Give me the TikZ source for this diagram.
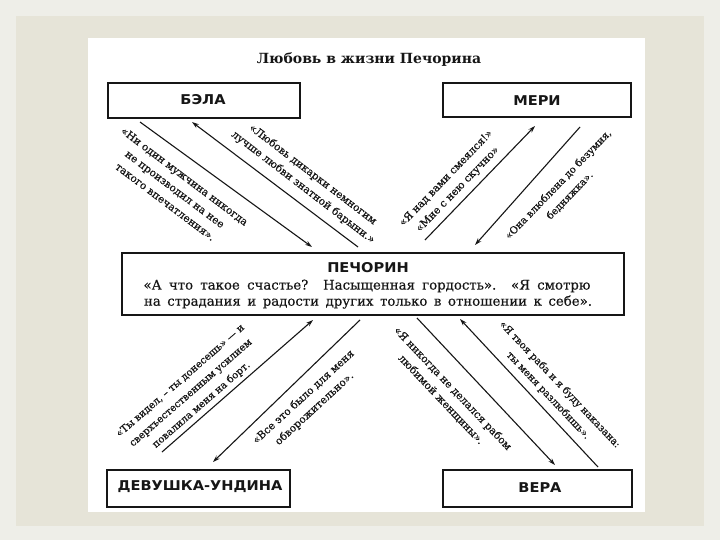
\documentclass[tikz,border=0pt]{standalone}
\usepackage{fontspec}
\setmainfont{DejaVu Serif}
\newfontfamily\labfont[FakeStretch=1.08]{DejaVu Sans}
\newfontfamily\quotefont[FakeBold=0.6]{DejaVu Serif}
\newfontfamily\centerfont[FakeBold=0.4]{DejaVu Serif}
\usetikzlibrary{arrows.meta}
\definecolor{outerbg}{RGB}{238,238,232}
\definecolor{innerbg}{RGB}{230,228,216}
\definecolor{ink}{RGB}{22,22,22}
\begin{document}
\begin{tikzpicture}[x=1pt,y=-1pt,
  namebox/.style={draw=ink, line width=1.5pt, inner sep=0pt},
  namelab/.style={font=\labfont\bfseries\fontsize{13.5}{15}\selectfont, text=ink, inner sep=0pt},
  quote/.style={font=\quotefont\fontsize{10.5}{16}\selectfont, align=center, inner sep=0pt, text=ink},
  smallq/.style={font=\quotefont\fontsize{10}{16}\selectfont},
  conn/.style={draw=ink, line width=1.1pt, -{Stealth[length=7pt,width=4.5pt]}}]
% background
\fill[outerbg] (0,0) rectangle (720,540);
\fill[innerbg] (16,16) rectangle (704,526);
\fill[white] (88,38) rectangle (645,512);
\useasboundingbox (0,0) rectangle (720,540);
% title
\node[font=\bfseries\fontsize{14}{16}\selectfont, text=ink, inner sep=0pt] (title) at (369,60) {Любовь в жизни Печорина};
% boxes
\node[namebox, minimum width=192pt, minimum height=35pt] (bela) at (204,100.5) {};
\node[namelab] (belalab) at (203,100) {БЭЛА};
\node[namebox, minimum width=188pt, minimum height=34pt] (meri) at (537,100) {};
\node[namelab] (merilab) at (537,101) {МЕРИ};
\node[namebox, minimum width=502pt, minimum height=62pt] (pech) at (373,284) {};
\node[namelab] (pechlab) at (368,268) {ПЕЧОРИН};
\node[font=\centerfont\fontsize{13.3}{14}\selectfont, text=ink, inner sep=0pt] (pechl1) at (367,286) {\makebox[447pt][s]{«А что такое счастье? Насыщенная гордость». «Я смотрю}};
\node[font=\centerfont\fontsize{13.3}{14}\selectfont, text=ink, inner sep=0pt] (pechl2) at (368,302) {\makebox[448pt][s]{на страдания и радости других только в отношении к себе».}};
\node[namebox, minimum width=183pt, minimum height=37pt] (undina) at (198.5,488.5) {};
\node[namelab] (undinalab) at (200,487) {ДЕВУШКА-УНДИНА};
\node[namebox, minimum width=189pt, minimum height=37pt] (vera) at (537.5,488.5) {};
\node[namelab] (veralab) at (540,488) {ВЕРА};
% connector end points
\coordinate (b1a) at (140,122); \coordinate (b1b) at (312,247);
\coordinate (b2a) at (358,247); \coordinate (b2b) at (192,122);
\coordinate (m1a) at (425,240); \coordinate (m1b) at (535,126);
\coordinate (m2a) at (580,127); \coordinate (m2b) at (475,245);
\coordinate (u1a) at (162,452); \coordinate (u1b) at (313,320);
\coordinate (u2a) at (360,320); \coordinate (u2b) at (213,462);
\coordinate (v1a) at (417,318); \coordinate (v1b) at (555,465);
\coordinate (v2a) at (598,467); \coordinate (v2b) at (460,319);
\draw[conn] (b1a) -- (b1b);
\draw[conn] (b2a) -- (b2b);
\draw[conn] (m1a) -- (m1b);
\draw[conn] (m2a) -- (m2b);
\draw[conn] (u1a) -- (u1b);
\draw[conn] (u2a) -- (u2b);
\draw[conn] (v1a) -- (v1b);
\draw[conn] (v2a) -- (v2b);
% quotes
\node[quote, rotate=-37] (qb1) at (175,189) {«Ни один мужчина никогда\\не производил на нее\\такого впечатления».};
\node[quote, rotate=-37.5] (qb2) at (308,181) {«Любовь дикарки немногим\\лучше любви знатной барыни.»};
\node[quote, rotate=46] (qm1) at (452,184) {«Я над вами смеялся!»\\«Мне с нею скучно»};
\node[quote, smallq, rotate=46] (qm2) at (564,190) {«Она влюблена до безумия,\\бедняжка».};
\node[quote, smallq, rotate=41] (qu1) at (191,393) {«Ты видел, – ты донесешь» — и\\сверхъестественным усилием\\повалила меня на борт.};
\node[quote, rotate=42.5] (qu2) at (309,403) {«Все это было для меня\\обворожительно».};
\node[quote, rotate=-46.5] (qv1) at (447,394) {«Я никогда не делался рабом\\любимой женщины».};
\node[quote, smallq, rotate=-46.5] (qv2) at (554,390) {«Я твоя раба и я буду наказана:\\ты меня разлюбишь».};
\end{tikzpicture}
\end{document}
